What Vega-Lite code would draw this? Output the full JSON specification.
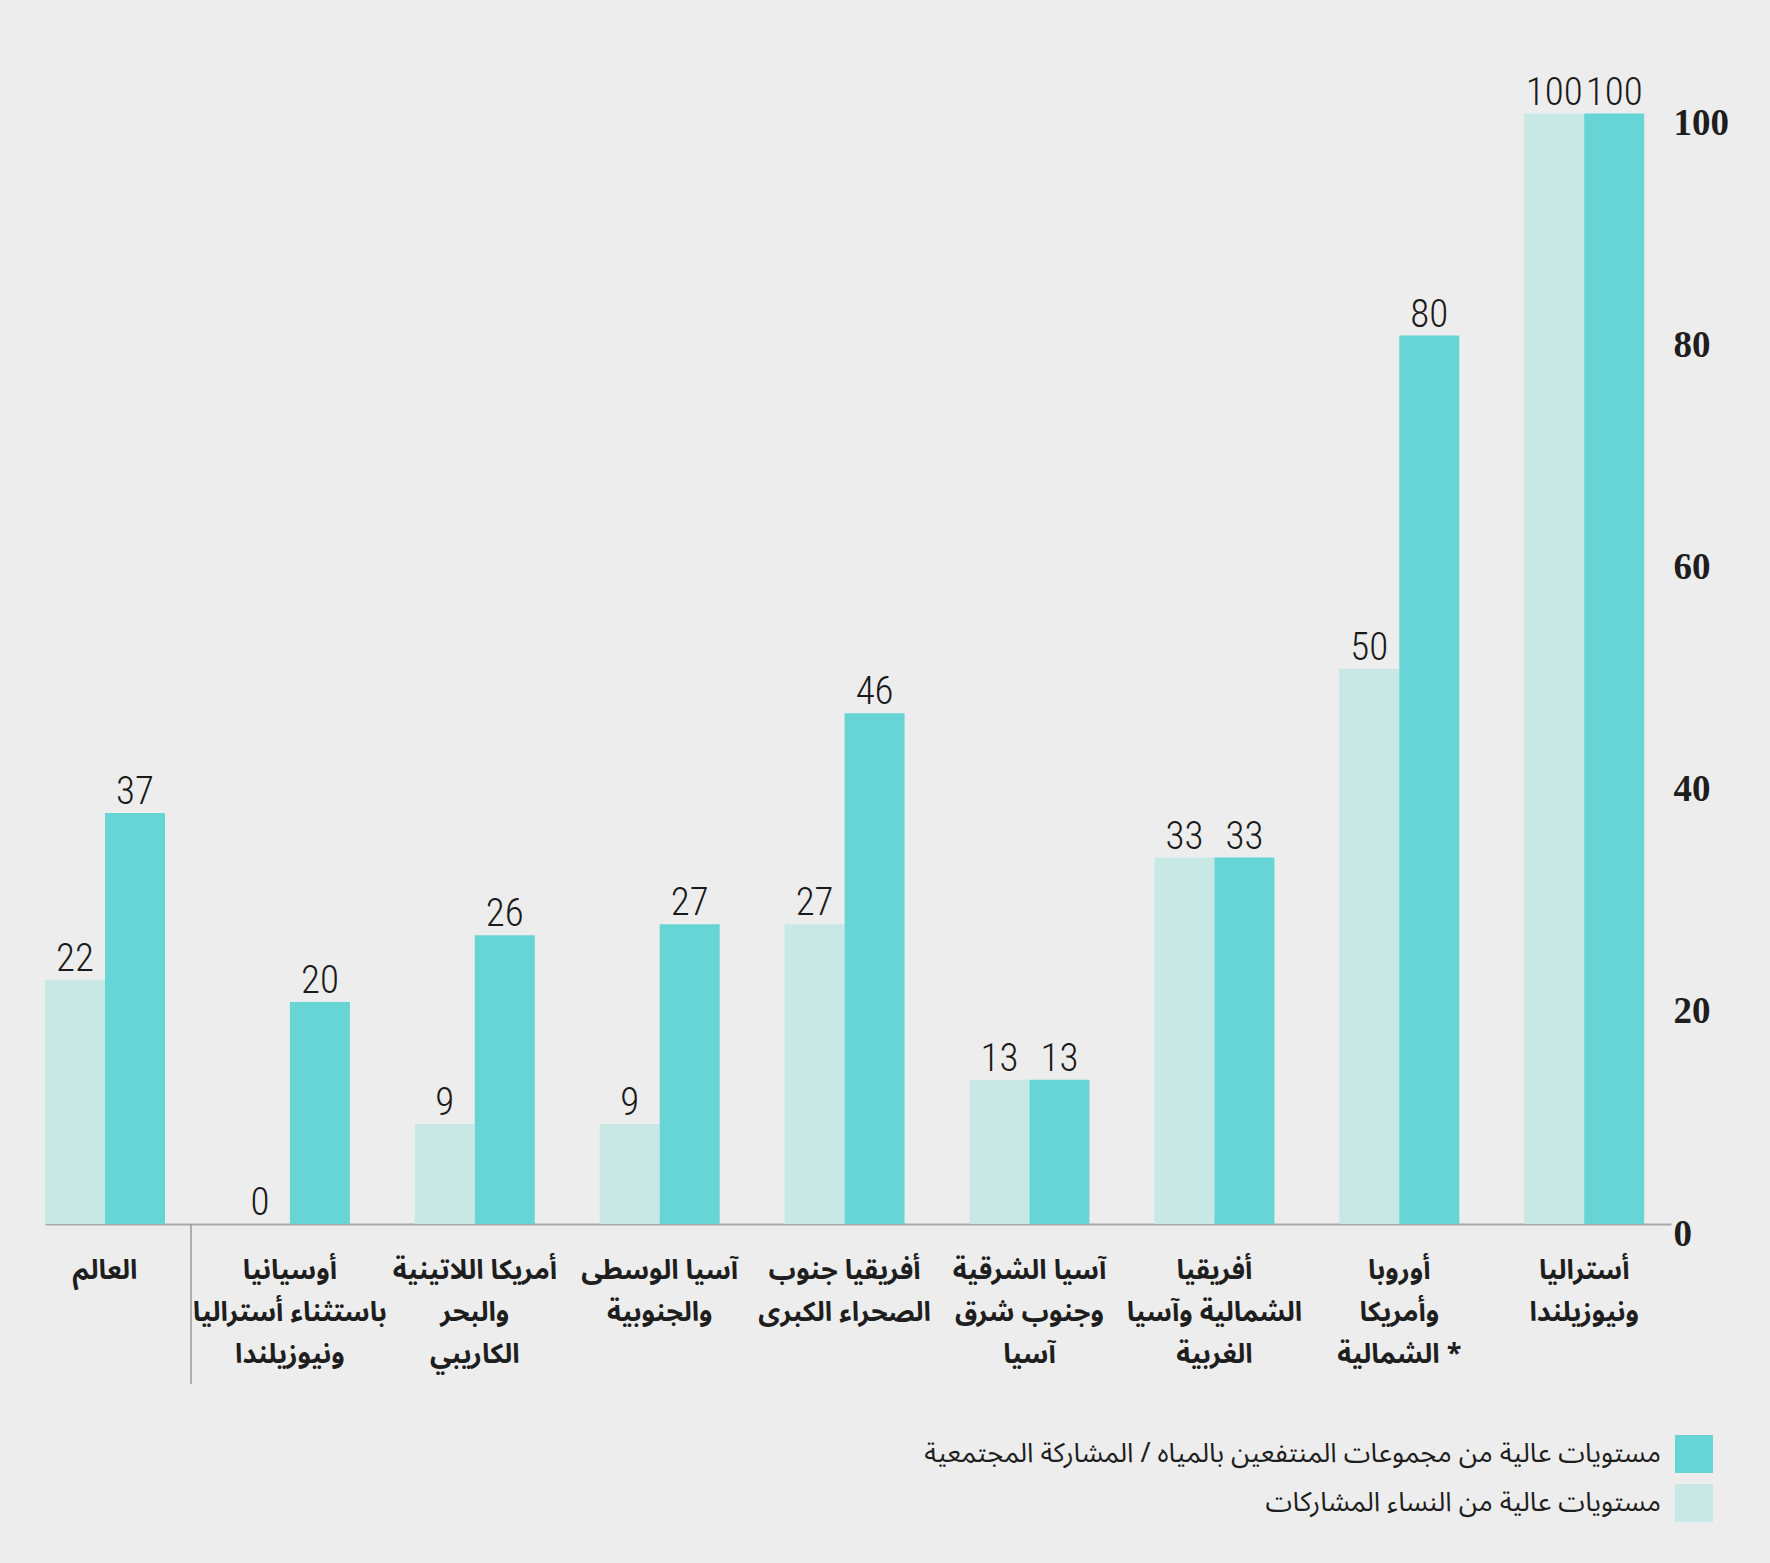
{
  "$schema": "https://vega.github.io/schema/vega-lite/v6.json",
  "width": 1626,
  "height": 1166,
  "autosize": {"type": "none"},
  "padding": {"left": 45, "top": 58, "right": 99, "bottom": 339},
  "background": "#ededed",
  "config": {"view": {"stroke": null}},
  "data": {
    "values": [
      {"region": "العالم", "series": "مستويات عالية من النساء المشاركات", "value": 22},
      {"region": "العالم", "series": "مستويات عالية من مجموعات المنتفعين بالمياه / المشاركة المجتمعية", "value": 37},
      {"region": "أوسيانيا|باستثناء أستراليا|ونيوزيلندا", "series": "مستويات عالية من النساء المشاركات", "value": 0},
      {"region": "أوسيانيا|باستثناء أستراليا|ونيوزيلندا", "series": "مستويات عالية من مجموعات المنتفعين بالمياه / المشاركة المجتمعية", "value": 20},
      {"region": "أمريكا اللاتينية|والبحر|الكاريبي", "series": "مستويات عالية من النساء المشاركات", "value": 9},
      {"region": "أمريكا اللاتينية|والبحر|الكاريبي", "series": "مستويات عالية من مجموعات المنتفعين بالمياه / المشاركة المجتمعية", "value": 26},
      {"region": "آسيا الوسطى|والجنوبية", "series": "مستويات عالية من النساء المشاركات", "value": 9},
      {"region": "آسيا الوسطى|والجنوبية", "series": "مستويات عالية من مجموعات المنتفعين بالمياه / المشاركة المجتمعية", "value": 27},
      {"region": "أفريقيا جنوب|الصحراء الكبرى", "series": "مستويات عالية من النساء المشاركات", "value": 27},
      {"region": "أفريقيا جنوب|الصحراء الكبرى", "series": "مستويات عالية من مجموعات المنتفعين بالمياه / المشاركة المجتمعية", "value": 46},
      {"region": "آسيا الشرقية|وجنوب شرق|آسيا", "series": "مستويات عالية من النساء المشاركات", "value": 13},
      {"region": "آسيا الشرقية|وجنوب شرق|آسيا", "series": "مستويات عالية من مجموعات المنتفعين بالمياه / المشاركة المجتمعية", "value": 13},
      {"region": "أفريقيا|الشمالية وآسيا|الغربية", "series": "مستويات عالية من النساء المشاركات", "value": 33},
      {"region": "أفريقيا|الشمالية وآسيا|الغربية", "series": "مستويات عالية من مجموعات المنتفعين بالمياه / المشاركة المجتمعية", "value": 33},
      {"region": "أوروبا|وأمريكا|الشمالية *", "series": "مستويات عالية من النساء المشاركات", "value": 50},
      {"region": "أوروبا|وأمريكا|الشمالية *", "series": "مستويات عالية من مجموعات المنتفعين بالمياه / المشاركة المجتمعية", "value": 80},
      {"region": "أستراليا|ونيوزيلندا", "series": "مستويات عالية من النساء المشاركات", "value": 100},
      {"region": "أستراليا|ونيوزيلندا", "series": "مستويات عالية من مجموعات المنتفعين بالمياه / المشاركة المجتمعية", "value": 100}
    ]
  },
  "layer": [
    {
      "mark": {"type": "bar"},
      "encoding": {
        "x": {
          "field": "region",
          "type": "nominal",
          "sort": null,
          "title": null,
          "scale": {
            "domain": ["العالم", "أوسيانيا|باستثناء أستراليا|ونيوزيلندا", "أمريكا اللاتينية|والبحر|الكاريبي", "آسيا الوسطى|والجنوبية", "أفريقيا جنوب|الصحراء الكبرى", "آسيا الشرقية|وجنوب شرق|آسيا", "أفريقيا|الشمالية وآسيا|الغربية", "أوروبا|وأمريكا|الشمالية *", "أستراليا|ونيوزيلندا"],
            "paddingInner": 0.351,
            "paddingOuter": 0.0725,
            "align": 0
          },
          "axis": {
            "labelExpr": "split(datum.label, '|')",
            "labelAngle": 0,
            "labelFont": "Noto Sans Arabic, Noto Sans, DejaVu Sans",
            "labelFontSize": 27,
            "labelFontWeight": "bold",
            "labelColor": "#1e1e1e",
            "labelLineHeight": 42,
            "labelBaseline": "top",
            "labelPadding": 33,
            "labelLimit": 400,
            "labelOverlap": false,
            "ticks": false,
            "domainColor": "#a9a9a9",
            "domainWidth": 2
          }
        },
        "xOffset": {
          "field": "series",
          "type": "nominal",
          "scale": {"domain": ["مستويات عالية من النساء المشاركات", "مستويات عالية من مجموعات المنتفعين بالمياه / المشاركة المجتمعية"], "paddingInner": 0, "paddingOuter": 0}
        },
        "y": {
          "field": "value",
          "type": "quantitative",
          "title": null,
          "scale": {"domain": [0, 105], "nice": false},
          "axis": {
            "orient": "right",
            "values": [0, 20, 40, 60, 80, 100],
            "domain": false,
            "ticks": false,
            "grid": false,
            "labelFont": "Liberation Serif",
            "labelFontSize": 37,
            "labelFontWeight": "bold",
            "labelColor": "#1e1e1e",
            "labelAlign": "left",
            "labelBaseline": "middle",
            "labelPadding": 2,
            "labelOffset": 10
          }
        },
        "color": {
          "field": "series",
          "type": "nominal",
          "scale": {
            "domain": ["مستويات عالية من مجموعات المنتفعين بالمياه / المشاركة المجتمعية", "مستويات عالية من النساء المشاركات"],
            "range": ["#67d5d5", "#c8e8e6"]
          },
          "legend": {
            "title": null,
            "orient": "none",
            "legendX": 1630,
            "legendY": 1377,
            "padding": 0,
            "symbolType": "square",
            "symbolSize": 1444,
            "symbolStrokeWidth": 0,
            "symbolOpacity": 1,
            "labelFont": "Noto Sans Arabic, Noto Sans, DejaVu Sans",
            "labelFontSize": 27,
            "labelColor": "#1e1e1e",
            "labelAlign": "right",
            "labelOffset": -52,
            "labelLimit": 1200,
            "rowPadding": 11,
            "encode": {
              "symbols": {
                "update": {
                  "fill": {"signal": "datum.value === 'مستويات عالية من النساء المشاركات' ? '#c8e8e6' : '#14d4d4'"}
                }
              }
            }
          }
        }
      }
    },
    {
      "mark": {"type": "text", "font": "Roboto Condensed, Roboto", "fontWeight": 300, "fontSize": 39, "color": "#1a1a1a", "baseline": "alphabetic", "align": "center", "dy": -9},
      "encoding": {
        "x": {"field": "region", "type": "nominal", "sort": null},
        "xOffset": {"field": "series", "type": "nominal"},
        "y": {"field": "value", "type": "quantitative"},
        "text": {"field": "value", "type": "quantitative"}
      }
    },
    {
      "data": {"values": [{"region": "العالم"}]},
      "mark": {"type": "rule", "color": "#9a9a9a", "strokeWidth": 1.5},
      "encoding": {
        "x": {"field": "region", "type": "nominal", "sort": null, "bandPosition": 1.217},
        "y": {"datum": 0},
        "y2": {"datum": -14.4}
      }
    }
  ]
}
